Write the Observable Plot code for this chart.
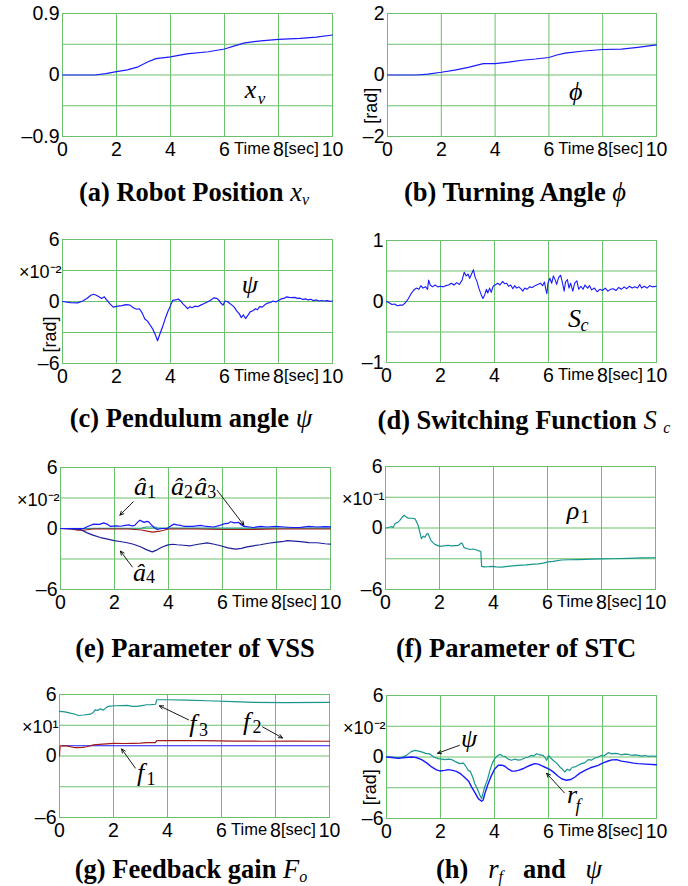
<!DOCTYPE html>
<html><head><meta charset="utf-8">
<script src="https://cdn.jsdelivr.net/npm/d3@7"></script>
<script src="https://cdn.jsdelivr.net/npm/@observablehq/plot@0.6"></script>
<style>
html,body{margin:0;padding:0;background:#fff;}
#root{position:relative;width:688px;height:886px;overflow:hidden;}
.cap{position:absolute;width:400px;text-align:center;font-family:"Liberation Serif","Times New Roman",serif;font-weight:bold;font-size:26.5px;line-height:26px;color:#000;white-space:nowrap;}
.cap i{font-weight:normal;}
.cap sub{font-size:16px;vertical-align:-4px;line-height:0;}
</style></head><body><div id="root"></div>
<script>
// ---------------- data ----------------
const xTicks = [0, 2, 4, 6, 8, 10];
const xWords = [{t: 7.02, w: "Time"}, {t: 8.85, w: "[sec]"}];

const yTicksA = [-0.9, 0, 0.9];
const yTicksB = [-2, 0, 2];
const yTicksD = [-1, 0, 1];
const yTicks6 = [-6, 0, 6];

// (a) robot position x_v
const xv = [[0,0],[1.2,0],[1.6,0.02],[2,0.05],[2.4,0.075],[2.8,0.12],[3.15,0.19],[3.46,0.24],[4,0.265],[4.6,0.31],[5.4,0.34],[6,0.38],[6.4,0.43],[6.75,0.47],[7.35,0.5],[8,0.52],[8.8,0.535],[9.4,0.555],[10,0.585]];
// (b) turning angle phi
const phi = [[0,0],[1.1,0],[1.5,0.03],[2,0.09],[2.5,0.16],[3,0.25],[3.56,0.37],[4,0.37],[4.5,0.42],[5,0.48],[5.5,0.52],[6,0.57],[6.3,0.65],[6.6,0.71],[7.3,0.78],[8,0.83],[8.7,0.84],[9.3,0.9],[10,0.98]];
// (c) pendulum angle psi (x10^-2)
const psi = [[0,0],[0.3,-0.1],[0.56,-0.13],[0.75,0.05],[0.9,0.3],[1.05,0.6],[1.15,0.7],[1.25,0.6],[1.35,0.45],[1.45,0.3],[1.55,0.45],[1.62,0.2],[1.75,-0.2],[1.88,-0.55],[2.05,-0.45],[2.2,-0.4],[2.35,-0.3],[2.5,-0.35],[2.62,-0.6],[2.75,-0.75],[2.85,-0.7],[2.95,-1.1],[3.05,-1.7],[3.15,-1.9],[3.25,-2.3],[3.35,-2.7],[3.45,-3.3],[3.52,-3.8],[3.6,-3.2],[3.7,-2.5],[3.8,-1.7],[3.9,-1.0],[4.0,-0.4],[4.08,0.1],[4.2,0.15],[4.28,0.25],[4.38,0.05],[4.45,-0.2],[4.55,-0.45],[4.63,-0.7],[4.72,-0.5],[4.8,-0.6],[4.9,-0.45],[5.0,-0.5],[5.12,-0.35],[5.25,-0.2],[5.4,0.0],[5.5,0.15],[5.6,0.35],[5.72,0.3],[5.8,0.1],[5.88,-0.2],[5.95,-0.35],[6.02,0.05],[6.1,0.0],[6.2,-0.2],[6.28,-0.35],[6.36,-0.55],[6.45,-0.9],[6.55,-1.2],[6.62,-1.55],[6.7,-1.3],[6.78,-1.65],[6.85,-1.4],[6.95,-1.0],[7.05,-0.9],[7.15,-0.7],[7.22,-0.8],[7.3,-0.5],[7.4,-0.55],[7.5,-0.3],[7.6,-0.15],[7.7,-0.1],[7.8,0.05],[7.9,-0.05],[8.0,0.1],[8.1,0.25],[8.2,0.3],[8.3,0.45],[8.4,0.4],[8.5,0.38],[8.6,0.4],[8.7,0.3],[8.8,0.32],[8.9,0.2],[9.0,0.25],[9.1,0.15],[9.2,0.22],[9.3,0.08],[9.4,0.15],[9.5,0.05],[9.6,0.1],[9.7,0.05],[9.8,0.08],[9.9,0.02],[10,0.05]];
// (d) switching function S_c
const sc = [[0,0],[0.1,-0.02],[0.2,-0.05],[0.3,-0.04],[0.4,-0.07],[0.5,-0.06],[0.6,-0.06],[0.7,-0.02],[0.8,0.04],[0.9,0.12],[1.0,0.18],[1.1,0.22],[1.2,0.2],[1.27,0.26],[1.35,0.22],[1.45,0.24],[1.52,0.2],[1.56,0.35],[1.62,0.27],[1.7,0.24],[1.8,0.27],[1.9,0.24],[2.0,0.25],[2.1,0.24],[2.2,0.26],[2.3,0.27],[2.4,0.3],[2.5,0.27],[2.6,0.31],[2.7,0.28],[2.8,0.35],[2.88,0.48],[2.95,0.42],[3.02,0.45],[3.08,0.38],[3.15,0.45],[3.22,0.52],[3.28,0.4],[3.35,0.33],[3.42,0.22],[3.5,0.12],[3.57,0.05],[3.63,0.1],[3.7,0.2],[3.75,0.14],[3.82,0.22],[3.88,0.15],[3.95,0.25],[4.05,0.28],[4.12,0.3],[4.2,0.27],[4.3,0.33],[4.38,0.29],[4.45,0.3],[4.52,0.25],[4.6,0.27],[4.68,0.21],[4.75,0.26],[4.82,0.22],[4.9,0.24],[5.0,0.2],[5.05,0.17],[5.12,0.22],[5.2,0.2],[5.3,0.24],[5.4,0.23],[5.5,0.26],[5.6,0.28],[5.7,0.3],[5.78,0.26],[5.85,0.32],[5.9,0.2],[5.94,0.13],[5.98,0.3],[6.05,0.38],[6.12,0.3],[6.18,0.42],[6.25,0.35],[6.3,0.28],[6.38,0.4],[6.45,0.43],[6.52,0.3],[6.58,0.17],[6.63,0.32],[6.7,0.36],[6.76,0.22],[6.82,0.3],[6.9,0.17],[6.97,0.3],[7.05,0.34],[7.12,0.2],[7.2,0.25],[7.28,0.2],[7.35,0.27],[7.45,0.22],[7.52,0.26],[7.6,0.19],[7.7,0.22],[7.8,0.16],[7.9,0.2],[8.0,0.18],[8.1,0.22],[8.2,0.17],[8.3,0.2],[8.4,0.21],[8.5,0.18],[8.6,0.23],[8.7,0.2],[8.8,0.24],[8.9,0.21],[9.0,0.25],[9.1,0.22],[9.2,0.24],[9.3,0.22],[9.38,0.28],[9.45,0.22],[9.55,0.25],[9.65,0.22],[9.75,0.26],[9.85,0.24],[10,0.25]];
// (e) VSS parameters (x10^-2)
const a1 = [[0,0],[0.5,0],[0.86,0],[1.0,0.2],[1.23,0.43],[1.45,0.4],[1.6,0.55],[1.75,0.4],[1.85,0.2],[2.05,0.25],[2.22,0.22],[2.4,0.3],[2.53,0.36],[2.65,0.25],[2.75,0.3],[2.85,0.6],[2.94,0.82],[3.02,0.7],[3.1,0.6],[3.2,0.7],[3.27,0.65],[3.35,0.4],[3.46,0.1],[3.58,-0.1],[3.75,0.0],[3.95,0.0],[4.05,0.2],[4.2,0.43],[4.32,0.35],[4.44,0.3],[4.6,0.2],[4.69,0.22],[4.9,0.2],[5.19,0.3],[5.4,0.2],[5.68,0.15],[5.9,0.3],[6.05,0.45],[6.2,0.5],[6.3,0.66],[6.45,0.55],[6.6,0.6],[6.67,0.4],[6.8,0.2],[7.0,0.15],[7.16,0.1],[7.4,0.2],[7.65,0.15],[8.0,0.2],[8.27,0.15],[8.6,0.1],[8.9,0.12],[9.2,0.2],[9.5,0.15],[9.8,0.18],[10,0.16]];
const a2 = [[0,0],[3.0,0.05],[3.2,0.15],[3.5,0.15],[3.6,0.05],[10,0.05]];
const a3 = [[0,0],[0.4,-0.05],[0.6,-0.15],[0.9,-0.15],[1.2,-0.05],[1.5,-0.05],[2.0,-0.05],[2.5,-0.05],[3.0,-0.15],[3.4,-0.35],[3.7,-0.25],[4.0,-0.05],[5,-0.05],[6,-0.1],[7,-0.1],[8,-0.05],[10,-0.05]];
const a4 = [[0,0],[0.74,-0.1],[0.99,-0.43],[1.2,-0.65],[1.48,-0.89],[1.75,-1.05],[1.98,-1.2],[2.2,-1.28],[2.47,-1.4],[2.7,-1.55],[2.96,-1.8],[3.2,-2.1],[3.4,-2.3],[3.58,-2.1],[3.75,-1.85],[3.95,-1.64],[4.15,-1.55],[4.32,-1.6],[4.55,-1.65],[4.81,-1.7],[5.1,-1.55],[5.43,-1.41],[5.7,-1.55],[5.93,-1.7],[6.2,-1.9],[6.48,-2.03],[6.7,-1.95],[6.91,-1.8],[7.15,-1.7],[7.4,-1.6],[7.7,-1.45],[8.02,-1.34],[8.2,-1.3],[8.4,-1.2],[8.65,-1.25],[8.89,-1.3],[9.2,-1.38],[9.5,-1.4],[9.8,-1.5],[10,-1.54]];
// (f) STC parameter rho_1 (x10^-1)
const rho = [[0,0],[0.12,0.05],[0.22,0.15],[0.28,0.05],[0.35,0.42],[0.45,0.55],[0.53,0.75],[0.6,1.0],[0.69,1.24],[0.76,1.1],[0.84,0.96],[0.95,0.95],[1.09,0.91],[1.15,0.6],[1.21,0.25],[1.27,-0.4],[1.33,-1.04],[1.4,-0.8],[1.46,-0.9],[1.52,-0.6],[1.58,-0.55],[1.63,-0.9],[1.68,-1.2],[1.75,-1.4],[1.83,-1.6],[1.92,-1.7],[2.01,-1.79],[2.15,-1.75],[2.32,-1.68],[2.45,-1.75],[2.57,-1.72],[2.7,-1.7],[2.81,-1.45],[2.86,-1.6],[2.91,-1.92],[3.0,-2.0],[3.12,-2.1],[3.25,-2.05],[3.37,-2.15],[3.49,-2.25],[3.53,-2.3],[3.56,-3.75],[3.65,-3.8],[3.8,-3.78],[3.93,-3.75],[4.1,-3.8],[4.3,-3.82],[4.6,-3.72],[4.91,-3.65],[5.2,-3.6],[5.41,-3.55],[5.65,-3.5],[5.84,-3.42],[6.02,-3.3],[6.2,-3.25],[6.52,-3.12],[6.8,-3.1],[7.14,-3.08],[7.6,-3.04],[8.0,-3.02],[8.37,-3.0],[9.0,-2.97],[9.5,-2.92],[10,-2.9]];
// (g) feedback gains (x10^1)
const f1 = [[0.1,1.0],[10,1.0]];
const f2 = [[0,0],[0.02,1.0],[0.27,0.98],[0.5,0.85],[0.64,0.82],[0.85,0.85],[1.01,0.9],[1.26,1.08],[1.6,1.15],[2.0,1.24],[2.4,1.22],[2.74,1.24],[3.0,1.26],[3.23,1.3],[3.55,1.3],[3.6,1.5],[4.2,1.5],[5.2,1.5],[5.9,1.48],[6.44,1.45],[7.5,1.44],[8.5,1.45],[10,1.44]];
const f3 = [[0,4.35],[0.2,4.3],[0.4,4.18],[0.55,4.1],[0.7,3.95],[0.9,4.0],[1.14,4.08],[1.25,4.25],[1.32,4.5],[1.42,4.45],[1.5,4.6],[1.63,4.48],[1.72,4.7],[1.81,4.84],[2.06,4.9],[2.3,4.92],[2.5,4.93],[2.7,4.85],[2.86,4.84],[3.05,4.92],[3.23,5.0],[3.4,5.02],[3.56,5.05],[3.6,5.49],[3.98,5.49],[4.72,5.46],[5.46,5.39],[6.44,5.3],[7.19,5.23],[8.3,5.2],[10,5.23]];
// (h) r_f and psi (x10^-2)
const psiH = [[0,0],[0.2,0],[0.43,-0.06],[0.6,0.0],[0.74,0.16],[0.9,0.5],[1.05,0.65],[1.15,0.6],[1.3,0.5],[1.45,0.35],[1.6,0.3],[1.75,0.0],[1.91,-0.16],[2.05,-0.2],[2.16,-0.25],[2.3,-0.2],[2.41,-0.25],[2.55,-0.45],[2.72,-0.65],[2.85,-0.6],[2.95,-0.95],[3.02,-1.3],[3.1,-1.4],[3.2,-2.0],[3.27,-2.6],[3.38,-3.2],[3.46,-3.73],[3.52,-4.06],[3.58,-3.5],[3.64,-2.9],[3.74,-2.2],[3.83,-1.3],[3.92,-0.6],[4.01,-0.16],[4.1,0.1],[4.2,0.26],[4.3,0.1],[4.38,0.06],[4.5,-0.2],[4.63,-0.32],[4.75,-0.2],[4.88,-0.3],[5.0,-0.25],[5.12,-0.1],[5.25,0.0],[5.37,0.16],[5.45,0.1],[5.56,0.32],[5.68,0.2],[5.8,0.16],[5.88,-0.1],[5.93,-0.32],[6.01,0.16],[6.08,-0.1],[6.17,-0.32],[6.3,-0.6],[6.42,-0.97],[6.52,-1.2],[6.6,-1.46],[6.7,-1.2],[6.79,-1.3],[6.88,-1.0],[6.98,-0.97],[7.1,-0.8],[7.22,-0.65],[7.35,-0.55],[7.47,-0.26],[7.6,-0.3],[7.72,-0.1],[7.84,0.0],[7.95,0.15],[8.05,0.1],[8.21,0.42],[8.35,0.3],[8.45,0.35],[8.58,0.32],[8.7,0.2],[8.82,0.28],[8.95,0.26],[9.1,0.15],[9.2,0.2],[9.32,0.16],[9.45,0.08],[9.55,0.15],[9.7,0.06],[9.85,0.1],[10,0.06]];
const rf = [[0,0],[0.2,-0.05],[0.43,-0.13],[0.7,-0.05],[0.93,0.0],[1.1,-0.05],[1.3,-0.26],[1.5,-0.6],[1.67,-0.97],[1.85,-1.25],[1.98,-1.36],[2.15,-1.3],[2.28,-1.23],[2.45,-1.3],[2.59,-1.4],[2.75,-1.65],[2.9,-2.0],[3.05,-2.4],[3.15,-2.92],[3.28,-3.5],[3.4,-4.06],[3.52,-4.32],[3.58,-4.2],[3.64,-3.6],[3.75,-2.7],[3.89,-1.79],[4.0,-1.2],[4.14,-0.81],[4.28,-0.8],[4.38,-0.9],[4.5,-1.15],[4.63,-1.36],[4.75,-1.38],[4.88,-1.3],[5.05,-1.15],[5.19,-0.97],[5.35,-0.78],[5.49,-0.65],[5.62,-0.7],[5.74,-0.85],[5.87,-1.0],[5.99,-1.14],[6.15,-1.4],[6.36,-1.88],[6.5,-2.15],[6.67,-2.27],[6.82,-2.2],[6.98,-1.95],[7.15,-1.6],[7.35,-1.3],[7.55,-1.05],[7.84,-0.81],[8.0,-0.6],[8.21,-0.39],[8.35,-0.28],[8.52,-0.26],[8.7,-0.4],[8.95,-0.5],[9.15,-0.6],[9.32,-0.65],[9.6,-0.7],[10,-0.75]];

// in-plot labels (data coordinates)
const labA = [{t: 6.96, v: -0.21, base: "x", sub: "v"}];
const labB = [{t: 7.0, v: -0.55, base: "ϕ"}];
const labC = [{t: 6.94, v: 1.6, base: "ψ"}];
const labD = [{t: 6.96, v: -0.28, base: "S", sub: "c"}];
const labE = [{t: 2.96, v: 4.1, base: "â", sub: "1"}, {t: 4.33, v: 4.1, base: "â", sub: "2"}, {t: 5.19, v: 4.1, base: "â", sub: "3"}, {t: 2.93, v: -4.3, base: "â", sub: "4"}];
const arrE = [{t1: 2.69, v1: 2.62, t2: 2.2, v2: 1.31}, {t1: 5.8, v1: 3.77, t2: 6.79, v2: 0.33}, {t1: 2.66, v1: -3.78, t2: 2.22, v2: -2.22}];
const labF = [{t: 6.94, v: 1.73, base: "ρ", sub: "1"}];
const labG = [{t: 4.94, v: 3.14, base: "f", sub: "3"}, {t: 6.93, v: 3.38, base: "f", sub: "2"}, {t: 3.0, v: -1.67, base: "f", sub: "1"}];
const arrG = [{t1: 4.78, v1: 3.53, t2: 3.7, v2: 4.9}, {t1: 7.52, v1: 2.84, t2: 8.26, v2: 1.76}, {t1: 2.81, v1: -1.18, t2: 2.3, v2: 0.69}];
const labHpsi = [{t: 3.06, v: 1.82, base: "ψ"}];
const labHr = [{t: 6.87, v: -3.7, base: "r", sub: "f"}];
const arrH = [{t1: 2.7, v1: 1.14, t2: 1.89, v2: 0.36}, {t1: 6.59, v1: -3.5, t2: 5.93, v2: -1.59}];

// scale notes
const noteC = [{v: 3, s: "×10⁻²"}];
const noteE = [{v: 3, s: "×10⁻²"}];
const noteF = [{v: 3, s: "×10⁻¹"}];
const noteG = [{v: 3, s: "×10¹"}];
const noteH = [{v: 3, s: "×10⁻²"}];
const radB = [{v: -1.0, s: "[rad]"}];
const radC = [{v: -3.2, s: "[rad]"}];
const radH = [{v: -2.95, s: "[rad]"}];

const captions = [
  {cx: 194, cy: 192, html: "(a) Robot Position <i>x<sub>v</sub></i>"},
  {cx: 515, cy: 192, html: "(b) Turning Angle <i>ϕ</i>"},
  {cx: 191, cy: 418, html: "(c) Pendulum angle <i>ψ</i>"},
  {cx: 524, cy: 420, html: "(d) Switching Function <i>S</i> <sub><i>c</i></sub>"},
  {cx: 195, cy: 648, html: "(e) Parameter of VSS"},
  {cx: 516, cy: 648, html: "(f) Parameter of STC"},
  {cx: 191, cy: 869, html: "(g) Feedback gain <i>F<sub>o</sub></i>"},
  {cx: 519, cy: 869, html: "(h)&nbsp;&nbsp; <i>r<sub>f</sub></i>&nbsp;&nbsp; and&nbsp;&nbsp; <i>ψ</i>"}
];

// ---------------- drawing ----------------
const GREEN = "#6cbf6c", BLUE = "#1a1aff", TEAL = "#17968f", DRED = "#a31818", NAVY = "#1e1e9a";
const SERIF = "'Liberation Serif','Times New Roman',serif";
const NARROW = "'Liberation Sans Narrow','Arial Narrow','Liberation Sans',Arial,sans-serif";
const TICK = 19.5, WORD = 16.5, NOTE = 18;
const fmt = d => d < 0 ? "–" + (-d) : String(d);
const root = document.getElementById("root");

function series(data, stroke, w = 1.2) {
  return Plot.line(data, {x: d => d[0], y: d => d[1], stroke, strokeWidth: w});
}
function math(data, {size = 26, subSize = 18, dx = 11, dy = 6, subItalic = false} = {}) {
  return [
    Plot.text(data, {x: "t", y: "v", text: "base", fontFamily: SERIF, fontStyle: "italic", fontSize: size, fill: "black"}),
    Plot.text(data.filter(d => d.sub), {x: "t", y: "v", text: "sub", dx, dy, fontFamily: SERIF, fontStyle: subItalic ? "italic" : "normal", fontSize: subSize, fill: "black"})
  ];
}
function arrows(data) {
  return Plot.arrow(data, {x1: "t1", y1: "v1", x2: "t2", y2: "v2", stroke: "black", strokeWidth: 0.9, headLength: 7, headAngle: 50});
}
function note(data) {
  return Plot.text(data, {y: "v", text: "s", frameAnchor: "left", textAnchor: "end", lineAnchor: "middle", dx: -1, dy: 2, fontSize: NOTE, fontFamily: NARROW});
}
function rad(data, dx) {
  return Plot.text(data, {y: "v", text: "s", frameAnchor: "left", textAnchor: "middle", lineAnchor: "middle", rotate: -90, dx, fontSize: NOTE, fontFamily: NARROW});
}

function panel({col, frame, yDomain, yLabels, marks}) {
  const [fl, ft, fr, fb] = frame;
  const left = col * 344;
  const q = (yDomain[1] - yDomain[0]) / 4;
  const yGrid = [0, 1, 2, 3, 4].map(i => yDomain[0] + i * q);
  const svg = Plot.plot({
    width: 344,
    height: fb - ft + 13 + 34,
    marginTop: 13, marginBottom: 34,
    marginLeft: fl - left, marginRight: left + 344 - fr,
    x: {domain: [0, 10]},
    y: {domain: yDomain},
    style: {fontFamily: NARROW, fontSize: TICK + "px", color: "black", background: "transparent", overflow: "visible"},
    marks: [
      Plot.gridX(xTicks, {stroke: GREEN, strokeOpacity: 1, strokeWidth: 1}),
      Plot.gridY(yGrid, {stroke: GREEN, strokeOpacity: 1, strokeWidth: 1}),
      Plot.frame({stroke: GREEN, strokeWidth: 1}),
      Plot.axisX(xTicks, {tickSize: 0, tickPadding: 5.5, label: null, fontSize: TICK, fontFamily: NARROW}),
      Plot.axisY(yLabels, {tickSize: 0, tickPadding: 3, label: null, tickFormat: fmt, fontSize: TICK, fontFamily: NARROW}),
      Plot.text(xWords, {x: "t", text: "w", frameAnchor: "bottom", lineAnchor: "middle", dy: 12.5, fontSize: WORD, fontFamily: NARROW}),
      ...marks
    ]
  });
  svg.style.position = "absolute";
  svg.style.left = left + "px";
  svg.style.top = (ft - 13) + "px";
  svg.style.maxWidth = "none";
  root.appendChild(svg);
}

panel({col: 0, frame: [62, 13, 332, 136], yDomain: [-0.9, 0.9], yLabels: yTicksA,
  marks: [series(xv, BLUE), ...math(labA, {dx: 11, dy: 9, subItalic: true, subSize: 17})]});
panel({col: 1, frame: [387, 13, 656, 136], yDomain: [-2, 2], yLabels: yTicksB,
  marks: [series(phi, BLUE), ...math(labB), rad(radB, -16)]});
panel({col: 0, frame: [62, 239, 332, 363], yDomain: [-6, 6], yLabels: yTicks6,
  marks: [series(psi, BLUE), ...math(labC), note(noteC), rad(radC, -12)]});
panel({col: 1, frame: [386, 240, 656, 362], yDomain: [-1, 1], yLabels: yTicksD,
  marks: [series(sc, BLUE, 1.1), ...math(labD, {dx: 10, dy: 7, subItalic: true})]});
panel({col: 0, frame: [60, 467, 330, 589], yDomain: [-6, 6], yLabels: yTicks6,
  marks: [series(a2, TEAL), series(a3, DRED), series(a4, NAVY), series(a1, BLUE), ...math(labE, {dx: 11, dy: 5}), arrows(arrE), note(noteE)]});
panel({col: 1, frame: [385, 466, 655, 589], yDomain: [-6, 6], yLabels: yTicks6,
  marks: [series(rho, TEAL), ...math(labF, {dx: 12, dy: 7}), note(noteF)]});
panel({col: 0, frame: [59, 694, 329, 817], yDomain: [-6, 6], yLabels: yTicks6,
  marks: [series(f1, BLUE), series(f2, DRED), series(f3, TEAL), ...math(labG, {dx: 10.5, dy: 6}), arrows(arrG), note(noteG)]});
panel({col: 1, frame: [386, 695, 656, 818], yDomain: [-6, 6], yLabels: yTicks6,
  marks: [series(psiH, TEAL), series(rf, BLUE, 1.4), ...math(labHpsi), ...math(labHr, {dx: 6, dy: 11, subItalic: true}), arrows(arrH), note(noteH), rad(radH, -16)]});

for (const c of captions) {
  const div = document.createElement("div");
  div.className = "cap";
  div.style.left = (c.cx - 200) + "px";
  div.style.top = (c.cy - 13) + "px";
  div.innerHTML = c.html;
  root.appendChild(div);
}
</script></body></html>
